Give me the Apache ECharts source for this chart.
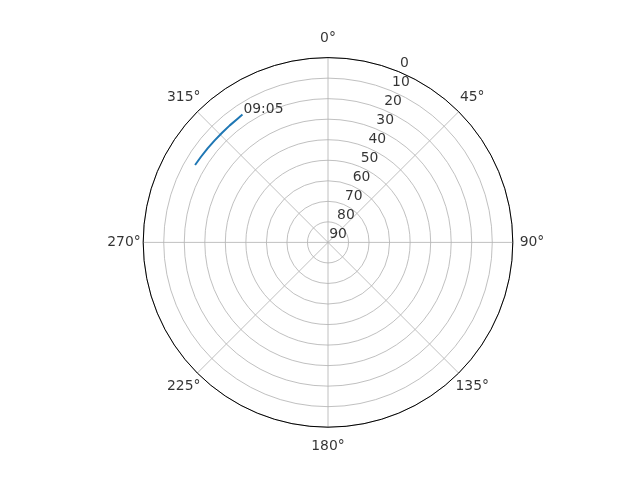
<!DOCTYPE html>
<html>
<head>
<meta charset="utf-8">
<script src="https://cdn.jsdelivr.net/npm/echarts@6/dist/echarts.min.js"></script>
<style>
  html, body { margin: 0; padding: 0; background: #fff; }
  #chart { width: 640px; height: 480px; }
</style>
</head>
<body>
<div id="chart"></div>
<script>
// 方位角刻度 (顺时针, 0° 朝北)
const angleTicks = [0, 45, 90, 135, 180, 225, 270, 315];
const angleLabels = ['0°', '45°', '90°', '135°', '180°', '225°', '270°', '315°'];

// 高度角刻度 (外圈 0, 圆心 90)
const radiusTicks = [0, 10, 20, 30, 40, 50, 60, 70, 80, 90];
const radiusLabels = ['0', '10', '20', '30', '40', '50', '60', '70', '80', '90'];

// 轨迹: 方位角 / 高度角
const pathAzimuth = [300.2, 304, 308, 312, 316, 320, 324, 326.2];
const pathElevation = [15.1, 15.4, 15.6, 15.75, 15.75, 15.6, 15.35, 15.1];
const pathLabel = '09:05';

const FONT = 'DejaVu Sans';
const FONT_SIZE = 13.9;
const GRID = '#b0b0b0';
const R_LABEL_ANGLE = 22.5;   // 径向标签所在方位
const THETA_LABEL_R = -9.35;  // 方位标签放在外圈之外

const chart = echarts.init(document.getElementById('chart'));

const pathData = pathAzimuth.map((a, i) => [pathElevation[i], a]);
const last = pathData[pathData.length - 1];

const option = {
    animation: false,
    backgroundColor: '#fff',
    polar: { center: [328, 242.4], radius: 184.8 },
    angleAxis: {
        type: 'value',
        min: 0, max: 360, interval: 45,
        startAngle: 90,
        clockwise: true,
        axisLine: { lineStyle: { color: '#000', width: 1 } },
        axisTick: { show: false },
        axisLabel: { show: false },
        splitLine: { lineStyle: { color: GRID, width: 0.8 } },
        z: 1
    },
    radiusAxis: {
        type: 'value',
        min: 0, max: 90, interval: 10,
        inverse: true,
        axisLine: { show: false },
        axisTick: { show: false },
        axisLabel: { show: false },
        splitLine: { lineStyle: { color: GRID, width: 0.8 } }
    },
    series: [
        {
            type: 'line',
            coordinateSystem: 'polar',
            data: pathData,
            showSymbol: false,
            lineStyle: { color: '#1f77b4', width: 2 },
            z: 5
        },
        {
            // 轨迹末端时间标签
            type: 'scatter',
            coordinateSystem: 'polar',
            data: [last],
            symbolSize: 1,
            itemStyle: { color: 'rgba(0,0,0,0)' },
            label: {
                show: true,
                formatter: pathLabel,
                position: [1.5, 0],
                align: 'left',
                verticalAlign: 'middle',
                offset: [0, -5],
                color: '#000',
                fontFamily: FONT,
                fontSize: FONT_SIZE
            },
            silent: true,
            z: 6
        },
        {
            // 径向刻度标签
            type: 'scatter',
            coordinateSystem: 'polar',
            clip: false,
            data: radiusTicks.map(v => [v, R_LABEL_ANGLE]),
            symbolSize: 1,
            itemStyle: { color: 'rgba(0,0,0,0)' },
            label: {
                show: true,
                formatter: p => radiusLabels[p.dataIndex],
                position: [1.7, -8],
                align: 'left',
                verticalAlign: 'middle',
                color: '#000',
                fontFamily: FONT,
                fontSize: FONT_SIZE
            },
            silent: true,
            z: 6
        },
        {
            // 方位刻度标签
            type: 'scatter',
            coordinateSystem: 'polar',
            clip: false,
            data: angleTicks.map(a => [THETA_LABEL_R, a]),
            symbolSize: 1,
            itemStyle: { color: 'rgba(0,0,0,0)' },
            label: {
                show: true,
                formatter: p => angleLabels[p.dataIndex],
                position: [0.5, 0],
                align: 'center',
                verticalAlign: 'middle',
                color: '#000',
                fontFamily: FONT,
                fontSize: FONT_SIZE
            },
            silent: true,
            z: 6
        }
    ]
};

chart.setOption(option);
</script>
</body>
</html>
